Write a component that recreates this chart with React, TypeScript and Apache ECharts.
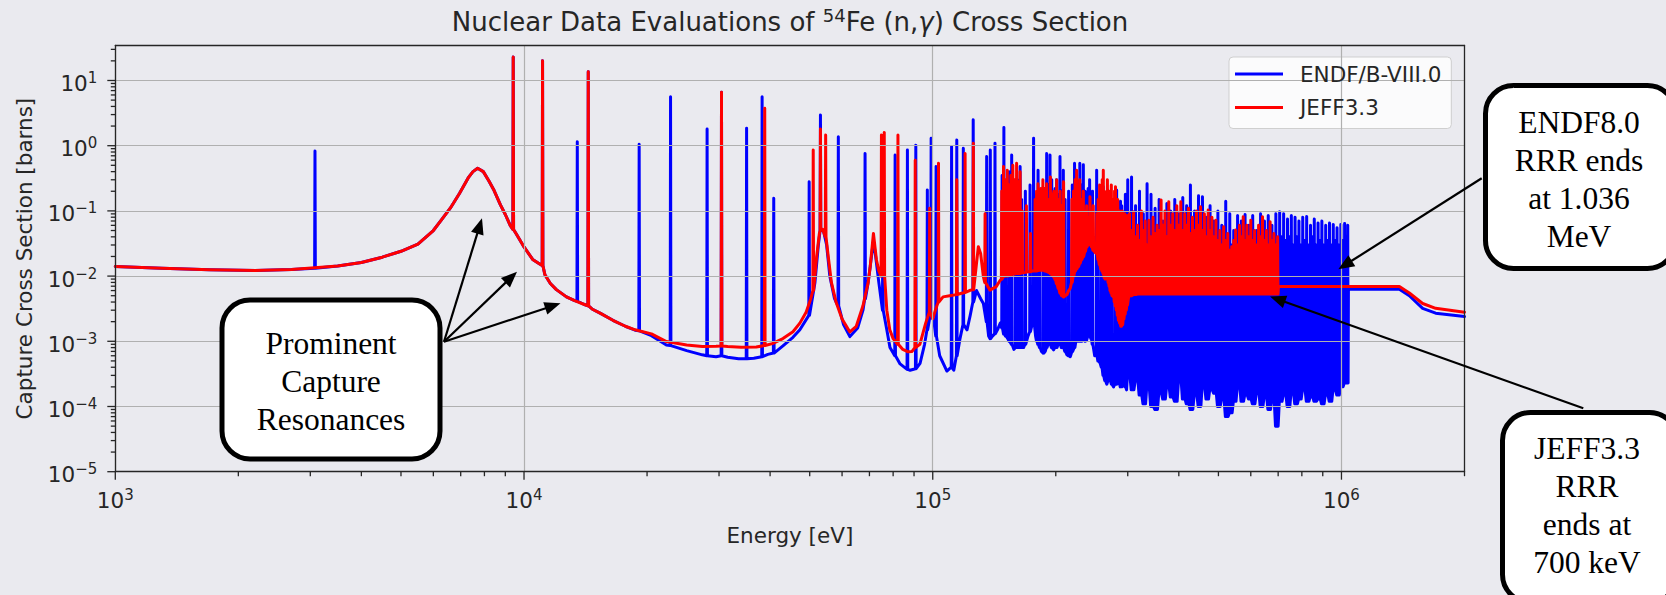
import React, { useEffect, useRef } from "react";
import * as echarts from "echarts";

const BG = "#eaeaef";
const SANS = "DejaVu Sans";
const SERIF = "Liberation Serif";
const INK = "#262626";
const BLUE = "#0000ff";
const RED = "#ff0000";

// Energies in keV, cross sections in barns.
// [E, sigma] is a point of the curve, [E, foot, peak] a narrow resonance spike.
const endfLow: number[][] = [
  [1.0, 0.014], [1.3, 0.0132], [1.7, 0.0125], [2.2, 0.0122], [2.7, 0.0126],
  [3.08, 0.0132, 0.83],
  [3.5, 0.0143], [4.0, 0.0162], [4.5, 0.0195], [5.0, 0.024], [5.5, 0.031], [6.0, 0.05], [6.3, 0.075],
  [6.6, 0.11], [6.95, 0.185], [7.3, 0.32], [7.5, 0.4], [7.7, 0.45], [7.95, 0.4], [8.2, 0.29],
  [8.45, 0.205], [8.75, 0.125], [9.0, 0.088], [9.25, 0.06],
  [9.41, 0.052, 23],
  [9.6, 0.043], [10.0, 0.028], [10.5, 0.018], [10.9, 0.0155],
  [11.1, 0.0145, 20],
  [11.25, 0.0105], [11.6, 0.0077], [12.0, 0.0062], [12.7, 0.0048], [13.3, 0.0042],
  [13.5, 0.0041, 1.15],
  [14.0, 0.0037],
  [14.36, 0.0035, 13.6],
  [14.7, 0.0031], [15.35, 0.0027], [16.5, 0.0021], [17.7, 0.0017], [18.7, 0.00148],
  [19.13, 0.00145, 1.05],
  [20.5, 0.00122], [22.3, 0.00088],
  [22.83, 0.00086, 5.65],
  [25, 0.00072], [27.3, 0.00062],
  [28.05, 0.0006, 1.8],
  [29.5, 0.00058],
  [30.42, 0.0006, 6.6],
  [31.5, 0.00057], [33.5, 0.00054],
  [35.04, 0.00054, 1.85],
  [36.5, 0.00055],
  [38.24, 0.00058, 5.65],
  [39.5, 0.00063],
  [40.83, 0.00066, 0.156],
  [43, 0.00085], [45.5, 0.00115], [47.3, 0.0015],
  [49.85, 0.0025, 0.28],
  [51.5, 0.008], [52.5, 0.03],
  [53.12, 0.05, 2.96],
  [54.0, 0.05], [55.0, 0.03], [56.0, 0.01], [57.5, 0.0045],
  [58.75, 0.0035, 1.37],
  [60.5, 0.0018], [62.7, 0.00118], [65.5, 0.0016], [67.5, 0.003],
  [68.3, 0.0045, 0.76],
  [69.5, 0.008], [70.3, 0.0139], [71.6, 0.035], [72.5, 0.02], [73.8, 0.008],
  [75.5, 0.003, 0.6],
  [77.2, 0.0015], [78.6, 0.0008],
  [80.9, 0.0006, 0.72],
  [83.2, 0.00045],
  [86.7, 0.00037, 0.86],
  [88.0, 0.00036],
  [90.9, 0.00038, 1.02],
  [93.1, 0.00046], [95.5, 0.0009],
  [97.0, 0.0015, 0.21],
  [98.2, 0.0022],
];

const endfMid: number[][] = [
  [99.1, 0.0025, 1.3], [100.6, 0.0021], [101.9, 0.0012, 0.48], [104, 0.0006], [108.3, 0.00035],
  [111.2, 0.0004, 0.97], [112.6, 0.00036], [114.5, 0.0006, 1.22], [116.6, 0.0011],
  [118.8, 0.0018, 0.91], [121.3, 0.0015], [123.5, 0.0025], [125.6, 0.004, 2.5], [128, 0.006],
  [131, 0.0045], [133, 0.0038], [135.5, 0.002, 0.68], [137, 0.0012], [138.3, 0.0011, 0.86],
  [140, 0.0012], [142, 0.0013, 1.09], [144, 0.0015], [146.3, 0.0019], [147.8, 0.0016, 0.35],
  [149.3, 0.0013, 1.9], [151, 0.0012, 0.25], [152.6, 0.0011], [154, 0.001, 0.4], [156, 0.0009, 0.72],
  [158, 0.00075], [159.5, 0.0008, 0.2], [161, 0.0008, 0.3], [163.6, 0.0008, 0.48], [165, 0.0008, 0.15],
  [166.8, 0.0008], [168.5, 0.0009, 0.2], [171, 0.0012], [173, 0.0014, 0.25], [175, 0.0018],
  [176.5, 0.0021, 1.3], [178.5, 0.0012], [179.8, 0.001, 0.18], [181, 0.0009, 0.42], [182.8, 0.0008, 0.2],
  [184.5, 0.0007], [186.7, 0.00066, 0.12], [188.5, 0.0007], [190, 0.0008, 0.76], [191.8, 0.0009, 0.25],
  [193.6, 0.0009, 0.72], [195.5, 0.0008, 0.3], [197.6, 0.00074], [199.3, 0.0008, 0.22], [201, 0.0008, 0.3],
  [203, 0.0009, 0.18], [204.8, 0.0009, 0.68], [206.7, 0.0008, 0.2], [208.7, 0.0008, 0.42],
  [210.8, 0.0007, 0.15], [213, 0.00062], [215, 0.0006, 0.2], [217, 0.00058], [219.5, 0.0007, 0.25],
  [222.3, 0.0008, 0.54], [225, 0.0011, 0.3], [227, 0.001, 0.2], [229, 0.001, 0.54], [231.3, 0.001, 0.25],
  [233.6, 0.0011, 0.51], [236, 0.001, 0.2], [238, 0.00104], [240, 0.0012, 0.22], [242, 0.0013, 0.3],
  [244, 0.0011, 0.15], [246, 0.0009, 0.2], [249, 0.0006], [251.8, 0.0006, 0.42], [254, 0.0005, 0.15],
  [256.8, 0.00046], [259, 0.0004, 0.2], [261.4, 0.0003, 0.235], [264, 0.00025, 0.12], [266.6, 0.00022],
  [269, 0.00025, 0.15], [271.5, 0.00025, 0.17], [274, 0.00022, 0.1], [277, 0.0002], [279.5, 0.00022, 0.15],
  [281.8, 0.00022, 0.21], [284, 0.00024, 0.1], [286, 0.00024], [288, 0.0002, 0.14], [290, 0.0002, 0.12],
  [292, 0.00026, 0.09], [294, 0.00026], [296, 0.0002, 0.18], [298, 0.00018],
];

// unresolved-looking dense part of the ENDF resolved range: [E, foot, peak]
const endfBand: number[][] = [
  [300, 0.0003, 0.3], [303, 0.0003, 0.04], [306.5, 0.00018, 0.33], [310, 0.00018, 0.03],
  [313.5, 0.00025, 0.12], [317, 0.00025, 0.04], [320.5, 0.00015, 0.2], [324, 0.00015, 0.03],
  [327.5, 0.00011, 0.09], [331, 0.00011, 0.04], [334.5, 0.0002, 0.26], [338, 0.0002, 0.05],
  [342, 0.0001, 0.18], [346, 0.0001, 0.03], [350, 0.00009, 0.11], [354, 0.00009, 0.04],
  [358, 0.00016, 0.15], [362, 0.00016, 0.03], [366, 0.00013, 0.07], [370, 0.00013, 0.04],
  [374, 0.0002, 0.13], [378, 0.0002, 0.03], [382, 0.00014, 0.1], [386.5, 0.00014, 0.04],
  [391, 0.00012, 0.15], [395.5, 0.00012, 0.03], [400, 0.00025, 0.09], [404.5, 0.00025, 0.04],
  [409, 0.00013, 0.16], [413.5, 0.00013, 0.03], [418, 0.00011, 0.12], [422.5, 0.00011, 0.05],
  [427, 0.00009, 0.25], [432, 0.00009, 0.03], [437, 0.00015, 0.1], [442, 0.00015, 0.04],
  [447, 0.0001, 0.17], [452, 0.0001, 0.03], [457, 0.0002, 0.165], [462, 0.0002, 0.04],
  [467, 0.00013, 0.08], [472, 0.00013, 0.03], [477, 0.00018, 0.12], [482, 0.00018, 0.04],
  [487.5, 0.00016, 0.07], [493, 0.00016, 0.03], [498.5, 0.0001, 0.1], [504, 0.0001, 0.035],
  [509.5, 0.00013, 0.06], [515, 0.00013, 0.03], [521, 0.00007, 0.14], [527, 0.00007, 0.04],
  [533, 0.00008, 0.09], [539, 0.00008, 0.03], [545, 0.00012, 0.05], [551, 0.00012, 0.035],
  [557, 0.0002, 0.085], [563, 0.0002, 0.03], [569, 0.00012, 0.07], [575, 0.00012, 0.04],
  [581, 0.00015, 0.088], [587, 0.00015, 0.03], [593.5, 0.00013, 0.06], [600, 0.00013, 0.035],
  [606.5, 0.00011, 0.085], [613, 0.00011, 0.03], [620, 0.00016, 0.05], [627, 0.00016, 0.04],
  [634, 0.0001, 0.09], [641, 0.0001, 0.03], [648, 0.00014, 0.07], [655, 0.00014, 0.035],
  [662, 0.00009, 0.085], [669, 0.00009, 0.03], [676, 0.00012, 0.06], [683.5, 0.00012, 0.04],
  [691, 0.00005, 0.09], [698.5, 0.00005, 0.03], [706, 0.00012, 0.097], [714, 0.00012, 0.04],
  [722, 0.00015, 0.09], [730, 0.00015, 0.035], [738, 0.0001, 0.075], [746, 0.0001, 0.04],
  [754, 0.00016, 0.085], [762, 0.00016, 0.03], [770, 0.00011, 0.08], [778.5, 0.00011, 0.04],
  [787, 0.00013, 0.07], [795.5, 0.00013, 0.03], [804, 0.00018, 0.08], [813, 0.00018, 0.035],
  [822, 0.00012, 0.082], [831, 0.00012, 0.03], [840, 0.00014, 0.06], [849, 0.00014, 0.04],
  [858, 0.00012, 0.075], [867, 0.00012, 0.03], [876.5, 0.00013, 0.065], [886, 0.00013, 0.035],
  [895.5, 0.00011, 0.07], [905, 0.00011, 0.03], [915, 0.00015, 0.06], [925, 0.00015, 0.035],
  [935, 0.00012, 0.065], [945, 0.00012, 0.03], [955, 0.00018, 0.062], [965, 0.00018, 0.035],
  [975.5, 0.00015, 0.055], [986, 0.00015, 0.03], [996.5, 0.0002, 0.062], [1007, 0.0002, 0.035],
  [1018, 0.00023, 0.064], [1029, 0.00023, 0.04], [1036, 0.00023, 0.06],
];

const endfTail: number[][] = [
  [1040, 0.0063], [1386, 0.0063], [1466, 0.005], [1580, 0.0032], [1700, 0.0027], [2000, 0.0024],
];

const jeffLow: number[][] = [
  [1.0, 0.014], [1.3, 0.0132], [1.7, 0.0125], [2.2, 0.0122], [2.7, 0.0126], [3.5, 0.0143], [4.0, 0.0162],
  [4.5, 0.0195], [5.0, 0.024], [5.5, 0.031], [6.0, 0.05], [6.3, 0.075], [6.6, 0.11], [6.95, 0.185],
  [7.3, 0.32], [7.5, 0.4], [7.7, 0.45], [7.95, 0.4], [8.2, 0.29], [8.45, 0.205], [8.75, 0.125],
  [9.0, 0.088], [9.25, 0.06],
  [9.41, 0.052, 23],
  [9.6, 0.043], [10.0, 0.028], [10.5, 0.018], [10.9, 0.0155],
  [11.1, 0.0145, 20],
  [11.25, 0.0105], [11.6, 0.0077], [12.0, 0.0062], [12.7, 0.0048], [13.3, 0.0042], [14.0, 0.0037],
  [14.36, 0.0035, 13.6],
  [14.7, 0.0031], [15.35, 0.0027], [16.5, 0.0021], [17.7, 0.0017], [18.7, 0.0015], [20.5, 0.0013],
  [22.3, 0.00099], [25, 0.00088], [27.3, 0.00083], [29.5, 0.00084],
  [30.42, 0.00085, 6.6],
  [31.5, 0.00083], [34, 0.00081], [37, 0.00082],
  [38.81, 0.00086, 3.75],
  [40.5, 0.00092], [43, 0.0011], [45.5, 0.0014], [47.3, 0.0019], [49, 0.0028], [50.3, 0.0045],
  [51.0, 0.006, 0.86],
  [52.0, 0.02], [52.8, 0.045],
  [53.12, 0.05, 1.8],
  [53.8, 0.052],
  [54.7, 0.04, 1.46],
  [55.5, 0.02], [56.5, 0.008], [58, 0.004], [60, 0.0022], [62.7, 0.00139], [65, 0.0017], [67.5, 0.0035],
  [69.5, 0.008], [70.3, 0.0139], [71.6, 0.045], [72.8, 0.018], [73.8, 0.012],
  [74.9, 0.01, 1.46], [75.5, 0.012, 1.1], [76.1, 0.01, 1.6],
  [77.2, 0.003], [78.5, 0.0015], [80, 0.0011],
  [82.2, 0.0009, 1.46],
  [84.5, 0.00075], [87, 0.00069], [89, 0.0007],
  [90.6, 0.0008, 0.6],
  [93, 0.0009], [96.1, 0.0019],
  [98.3, 0.0028, 0.11],
];

const jeffMid: number[][] = [
  [100, 0.0022], [101.5, 0.003], [103.3, 0.004, 0.54], [106, 0.0048], [110, 0.005], [114.5, 0.0052, 0.3],
  [117, 0.0054], [120, 0.0056, 0.76], [123, 0.006], [125.7, 0.0062, 1.09], [128, 0.016], [129.3, 0.0283],
  [131, 0.022], [133, 0.0098], [134.3, 0.008, 0.09], [138, 0.0061], [143, 0.0069], [146, 0.0085],
  [147.5, 0.009, 0.2], [149, 0.0098, 0.48], [150.7, 0.01, 0.3], [152.2, 0.01, 0.42], [153.8, 0.0102, 0.25],
  [155.3, 0.0105, 0.35], [157, 0.0107, 0.5], [158.6, 0.0108, 0.3], [160.4, 0.011, 0.54], [162, 0.011, 0.28],
  [163.6, 0.011, 0.4], [165.5, 0.0112, 0.1], [167.5, 0.0113], [169.5, 0.0115, 0.12], [172, 0.0117],
  [173.5, 0.0117, 0.045], [176, 0.012], [178, 0.012, 0.15], [179.5, 0.012, 0.2], [181, 0.0122, 0.26],
  [182.5, 0.0123, 0.12], [184, 0.0123, 0.22], [186, 0.0124, 0.3], [188, 0.012, 0.22], [190, 0.0118, 0.26],
  [192, 0.0115, 0.15], [194, 0.011, 0.33], [196, 0.0104, 0.18], [197.8, 0.0098, 0.2], [199.5, 0.0088, 0.12],
  [201, 0.0077, 0.3], [203, 0.0065, 0.15], [205, 0.0055, 0.2], [207, 0.005, 0.12], [209, 0.0048, 0.28],
  [211, 0.005], [213, 0.0052], [215, 0.006], [217, 0.0065], [219, 0.008, 0.15], [221, 0.01, 0.2],
  [223, 0.012, 0.3], [225, 0.013, 0.42], [227, 0.014, 0.2], [229, 0.0157, 0.3], [231.3, 0.018, 0.15],
  [233.6, 0.02, 0.2], [236, 0.024, 0.1], [238, 0.028, 0.12], [240, 0.03, 0.08], [242.5, 0.032, 0.165],
  [245, 0.028, 0.1], [247, 0.025, 0.12], [249.5, 0.023], [252, 0.0223, 0.09], [254, 0.018, 0.15],
  [256, 0.015, 0.25], [258, 0.013, 0.12], [259.8, 0.012, 0.3], [261.4, 0.011, 0.42], [263, 0.0095, 0.2],
  [264.5, 0.009, 0.18], [266, 0.0092, 0.12], [267.5, 0.0098, 0.3], [269, 0.008, 0.15], [270.5, 0.007, 0.2],
  [272, 0.006, 0.12], [273.5, 0.0055, 0.25], [275, 0.005, 0.1], [277, 0.0048, 0.15], [278.5, 0.004, 0.2],
  [280, 0.0035, 0.235], [281.8, 0.003, 0.12], [283.5, 0.0025, 0.15], [285.2, 0.0021, 0.09], [287, 0.0019, 0.1],
  [289, 0.0017, 0.08], [291, 0.0018, 0.1], [293, 0.0022, 0.07], [295, 0.0026, 0.09], [297, 0.003, 0.08],
  [299, 0.0036, 0.085], [301, 0.0045],
];

// dense part of the JEFF resolved range up to 700 keV: [E, foot, peak]
const jeffBand: number[][] = [
  [303, 0.005, 0.09], [306.5, 0.005, 0.05], [310, 0.0052, 0.097], [313.5, 0.0052, 0.04],
  [317, 0.0053, 0.06], [320.5, 0.0053, 0.035], [324, 0.0053, 0.1], [327.5, 0.0053, 0.05],
  [331, 0.0053, 0.07], [334.5, 0.0053, 0.03], [338, 0.0053, 0.072], [342, 0.0053, 0.04],
  [346, 0.0053, 0.08], [350, 0.0053, 0.045], [354, 0.0053, 0.06], [358, 0.0053, 0.05],
  [362, 0.0053, 0.147], [366, 0.0053, 0.06], [370, 0.0053, 0.1], [374, 0.0053, 0.04],
  [378, 0.0053, 0.138], [382, 0.0053, 0.06], [386.5, 0.0053, 0.09], [391, 0.0053, 0.05],
  [395.5, 0.0053, 0.12], [400, 0.0053, 0.06], [404.5, 0.0053, 0.138], [409, 0.0053, 0.05],
  [413.5, 0.0053, 0.09], [418, 0.0053, 0.06], [422.5, 0.0053, 0.11], [427, 0.0053, 0.045],
  [432, 0.0053, 0.08], [437, 0.0053, 0.05], [442, 0.0053, 0.1], [447, 0.0053, 0.06],
  [452, 0.0053, 0.116], [457, 0.0053, 0.05], [462, 0.0053, 0.09], [467, 0.0053, 0.04],
  [472, 0.0053, 0.103], [477, 0.0053, 0.05], [482, 0.0053, 0.08], [487.5, 0.0053, 0.04],
  [493, 0.0053, 0.072], [498.5, 0.0053, 0.035], [504, 0.0053, 0.05], [509.5, 0.0053, 0.03],
  [515, 0.0053, 0.057], [521, 0.0053, 0.035], [527, 0.0053, 0.045], [533, 0.0053, 0.025],
  [539, 0.0053, 0.0283], [545, 0.0053, 0.035], [551, 0.0053, 0.051], [557, 0.0053, 0.03],
  [563, 0.0053, 0.06], [569, 0.0053, 0.04], [575, 0.0053, 0.081], [581, 0.0053, 0.035],
  [587, 0.0053, 0.06], [593.5, 0.0053, 0.04], [600, 0.0053, 0.072], [606.5, 0.0053, 0.035],
  [613, 0.0053, 0.05], [620, 0.0053, 0.03], [627, 0.0053, 0.06], [634, 0.0053, 0.04],
  [641, 0.0053, 0.081], [648, 0.0053, 0.035], [655, 0.0053, 0.05], [662, 0.0053, 0.03],
  [669, 0.0053, 0.068], [676, 0.0053, 0.035], [683.5, 0.0053, 0.045], [691, 0.0053, 0.03],
  [698, 0.0053, 0.04],
];

const jeffTail: number[][] = [
  [701, 0.0069], [1386, 0.0069], [1466, 0.0055], [1580, 0.0038], [1700, 0.0032], [2000, 0.0028],
];

const xMajorTicks = [1e3, 1e4, 1e5, 1e6];
const yMajorTicks = [1e-5, 1e-4, 1e-3, 1e-2, 1e-1, 1, 10];
const minorMantissas = [2, 3, 4, 5, 6, 7, 8, 9];

const X_MIN = 1e3;
const X_MAX = 2e6;
const Y_MIN = 1e-5;
const Y_MAX = 34.4;

// relative half width of a drawn resonance spike
const SPIKE = 0.002;

function toCurve(...parts: number[][][]): number[][] {
  const out: number[][] = [];
  for (const part of parts) {
    for (const p of part) {
      const e = p[0] * 1000;
      if (p.length === 3) {
        out.push([e * (1 - SPIKE), p[1]], [e, p[2]], [e * (1 + SPIKE), p[1]]);
      } else {
        out.push([e, p[1]]);
      }
    }
  }
  return out;
}

function minorTicks(decadeFrom: number, decadeTo: number, max: number): number[] {
  const out: number[] = [];
  for (let d = decadeFrom; d <= decadeTo; d++) {
    for (const m of minorMantissas) {
      const v = m * Math.pow(10, d);
      if (v <= max * 1.0001) out.push(v);
    }
  }
  return out;
}

function powerLabel(v: number): string {
  const e = Math.log10(v);
  const r = Math.round(e);
  if (Math.abs(e - r) > 1e-6) return "";
  const exp = r < 0 ? "\u2212" + -r : String(r);
  return `{b|10}{s|${exp}}`;
}

const labelRich = {
  b: { fontSize: 21.5, fontFamily: SANS, color: INK, lineHeight: 26 },
  s: { fontSize: 15, fontFamily: SANS, color: INK, lineHeight: 12, verticalAlign: "top" },
};

type Box = { x: number; y: number; w: number; h: number; cx: number; cy: number; text: string };
const callouts: Box[] = [
  { x: 222, y: 300, w: 218, h: 159, cx: 331, cy: 381, text: "Prominent\nCapture\nResonances" },
  { x: 1485.5, y: 85.5, w: 190, h: 183, cx: 1579, cy: 179, text: "ENDF8.0\nRRR ends\nat 1.036\nMeV" },
  { x: 1502.5, y: 412.5, w: 175, h: 190, cx: 1587, cy: 505, text: "JEFF3.3\nRRR\nends at\n700 keV" },
];
const arrows: number[][] = [
  [444, 341.7, 482, 218.3],
  [444, 341.7, 517, 271.7],
  [444, 341.7, 560.5, 303.3],
  [1481.7, 178.3, 1338.3, 269.3],
  [1583.3, 408.3, 1270, 296.5],
];

function arrowGraphics(a: number[]) {
  const [x1, y1, x2, y2] = a;
  const dx = x2 - x1;
  const dy = y2 - y1;
  const len = Math.hypot(dx, dy);
  const ux = dx / len;
  const uy = dy / len;
  const headLen = 16;
  const headHalf = 6.5;
  const bx = x2 - ux * headLen;
  const by = y2 - uy * headLen;
  return [
    {
      type: "line",
      z: 50,
      shape: { x1, y1, x2: bx + ux * 2, y2: by + uy * 2 },
      style: { stroke: "#000", lineWidth: 2.2 },
    },
    {
      type: "polygon",
      z: 50,
      shape: {
        points: [
          [x2, y2],
          [bx - uy * headHalf, by + ux * headHalf],
          [bx + uy * headHalf, by - ux * headHalf],
        ],
      },
      style: { fill: "#000" },
    },
  ];
}

// an extra axis that only draws one side of the frame
function frameAxis(kind: "x" | "y", position: string, index: number) {
  return {
    type: "log",
    logBase: 10,
    min: kind === "x" ? X_MIN : Y_MIN,
    max: kind === "x" ? X_MAX : Y_MAX,
    position,
    gridIndex: 0,
    axisLine: { show: true, onZero: false, lineStyle: { color: INK, width: 1.3 } },
    axisTick: { show: false },
    axisLabel: { show: false },
    splitLine: { show: false },
    z: 4,
    id: kind + index,
  };
}

export default function App() {
  const ref = useRef<HTMLDivElement>(null);

  useEffect(() => {
    document.body.style.margin = "0";
    document.body.style.background = BG;
    const chart = echarts.init(ref.current!, undefined, { renderer: "svg" });

    const tickData: number[][] = [];
    for (const v of xMajorTicks) tickData.push([v, Y_MIN, 0, 8]);
    for (const v of minorTicks(3, 6, X_MAX)) tickData.push([v, Y_MIN, 0, 4.5]);
    for (const v of yMajorTicks) tickData.push([X_MIN, v, 1, 8]);
    for (const v of minorTicks(-5, 1, Y_MAX)) tickData.push([X_MIN, v, 1, 4.5]);

    const graphics: any[] = [
      {
        type: "text",
        x: 790,
        y: 22,
        z: 50,
        style: {
          text: "{t|Nuclear Data Evaluations of }{s|54}{t|Fe (n,}{g|\u03b3}{t|) Cross Section}",
          align: "center",
          verticalAlign: "middle",
          rich: {
            t: { fontSize: 26, fontFamily: SANS, fill: INK, lineHeight: 32 },
            s: { fontSize: 18, fontFamily: SANS, fill: INK, lineHeight: 16, verticalAlign: "top" },
            g: { fontSize: 26, fontFamily: SANS, fontStyle: "italic", fill: INK, lineHeight: 32 },
          },
        },
      },
    ];
    for (const a of arrows) graphics.push(...arrowGraphics(a));
    for (const b of callouts) {
      graphics.push({
        type: "rect",
        z: 60,
        shape: { x: b.x, y: b.y, width: b.w, height: b.h, r: 28 },
        style: { fill: "#fff", stroke: "#000", lineWidth: 5 },
      });
      graphics.push({
        type: "text",
        z: 61,
        x: b.cx,
        y: b.cy,
        style: {
          text: b.text,
          fontSize: 31.5,
          fontFamily: SERIF,
          fill: "#000",
          align: "center",
          verticalAlign: "middle",
          lineHeight: 38,
        },
      });
    }

    const lineBase = {
      type: "line",
      showSymbol: false,
      symbol: "none",
      silent: true,
      animation: false,
      emphasis: { disabled: true },
    };

    const gridLine = { color: "#b0b0b0", width: 1.2 };

    chart.setOption({
      animation: false,
      backgroundColor: BG,
      grid: {
        left: 115.3,
        top: 45.5,
        right: 1666 - 1464.5,
        bottom: 595 - 471.7,
        show: false,
      },
      legend: {
        data: ["ENDF/B-VIII.0", "JEFF3.3"],
        orient: "vertical",
        left: 1229,
        top: 57,
        icon: "rect",
        itemWidth: 48,
        itemHeight: 3,
        itemGap: 11.5,
        padding: [6, 10, 10, 6],
        backgroundColor: "rgba(255,255,255,0.8)",
        borderColor: "#cfcfcf",
        borderWidth: 1,
        borderRadius: 4,
        selectedMode: false,
        textStyle: {
          fontSize: 21.5,
          fontFamily: SANS,
          color: INK,
          lineHeight: 22,
          padding: [0, 0, 0, 12],
        },
      },
      xAxis: [
        {
          type: "log",
          logBase: 10,
          min: X_MIN,
          max: X_MAX,
          position: "bottom",
          name: "Energy [eV]",
          nameLocation: "middle",
          nameGap: 53,
          nameTextStyle: { fontSize: 21.5, fontFamily: SANS, color: INK },
          axisLine: { show: true, onZero: false, lineStyle: { color: INK, width: 1.3 } },
          axisTick: { show: false },
          minorTick: { show: false },
          splitLine: { show: true, showMinLine: false, showMaxLine: false, lineStyle: gridLine },
          axisLabel: {
            formatter: powerLabel,
            margin: 15.8,
            rich: labelRich,
            showMinLabel: true,
            showMaxLabel: true,
            hideOverlap: false,
          },
          z: 4,
        },
        frameAxis("x", "top", 1),
      ],
      yAxis: [
        {
          type: "log",
          logBase: 10,
          min: Y_MIN,
          max: Y_MAX,
          position: "left",
          name: "Capture Cross Section [barns]",
          nameLocation: "middle",
          nameGap: 80,
          nameRotate: 90,
          nameTextStyle: { fontSize: 21.5, fontFamily: SANS, color: INK },
          axisLine: { show: true, onZero: false, lineStyle: { color: INK, width: 1.3 } },
          axisTick: { show: false },
          minorTick: { show: false },
          splitLine: { show: true, showMinLine: false, showMaxLine: false, lineStyle: gridLine },
          axisLabel: {
            formatter: powerLabel,
            margin: 18,
            padding: [6, 0, 0, 0],
            rich: labelRich,
            showMinLabel: true,
            showMaxLabel: true,
            hideOverlap: false,
          },
          z: 4,
        },
        frameAxis("y", "right", 1),
      ],
      series: [
        {
          ...lineBase,
          name: "ENDF/B-VIII.0",
          data: toCurve(endfLow, endfMid, endfBand, endfTail),
          color: BLUE,
          lineStyle: { color: BLUE, width: 3, join: "round", cap: "round" },
          z: 2,
        },
        {
          ...lineBase,
          name: "JEFF3.3",
          data: toCurve(jeffLow, jeffMid, jeffBand, jeffTail),
          color: RED,
          lineStyle: { color: RED, width: 3, join: "round", cap: "round" },
          z: 3,
        },
        {
          type: "custom",
          silent: true,
          clip: false,
          data: tickData,
          renderItem: (_params: any, api: any) => {
            const kind = api.value(2);
            const len = api.value(3);
            const p = api.coord([api.value(0), api.value(1)]);
            const shape =
              kind === 0
                ? { x1: p[0], y1: p[1], x2: p[0], y2: p[1] + len }
                : { x1: p[0] - len, y1: p[1], x2: p[0], y2: p[1] };
            return { type: "line", shape, style: { stroke: INK, lineWidth: 1.3 } };
          },
          z: 5,
        },
      ],
      graphic: graphics,
    });

    return () => chart.dispose();
  }, []);

  return (
    <div
      ref={ref}
      style={{ position: "absolute", left: 0, top: 0, width: 1666, height: 595, background: BG }}
    />
  );
}
